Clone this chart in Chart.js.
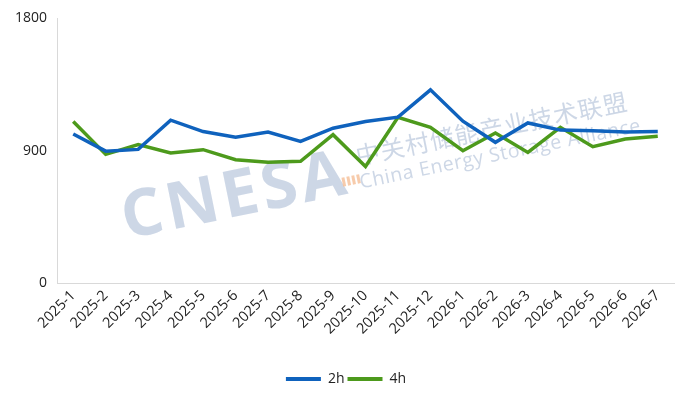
<!DOCTYPE html>
<html>
<head>
<meta charset="utf-8">
<script src="https://cdn.jsdelivr.net/npm/chart.js@4.4.1/dist/chart.umd.min.js"></script>
<style>
html,body{margin:0;padding:0;background:#fff;}
#wrap{width:693px;height:404px;position:relative;}
</style>
</head>
<body>
<div id="wrap"><canvas id="c" width="693" height="404"></canvas></div>
<script>
const categories = ["2025-1","2025-2","2025-3","2025-4","2025-5","2025-6","2025-7","2025-8","2025-9","2025-10","2025-11","2025-12","2026-1","2026-2","2026-3","2026-4","2026-5","2026-6","2026-7"];
const series2h = [1014, 897, 909, 1108, 1030, 991, 1027, 963, 1053, 1098, 1128, 1314, 1101, 957, 1089, 1040, 1036, 1027, 1030];
const series4h = [1098, 875, 941, 884, 907, 839, 822, 828, 1009, 793, 1127, 1059, 900, 1021, 888, 1059, 927, 980, 999];
const yTicks = [0, 900, 1800];

const watermark = {
  id: 'watermark',
  beforeDatasetsDraw(chart) {
    const ctx = chart.ctx;
    ctx.save();
    const ang = -11.5 * Math.PI / 180;
    const wm = 'rgba(196,208,226,0.85)';
    // CNESA
    ctx.save();
    ctx.translate(126, 239);
    ctx.rotate(ang);
    ctx.fillStyle = wm;
    ctx.font = 'bold 65px "Open Sans", sans-serif';
    ctx.letterSpacing = '4px';
    ctx.textBaseline = 'alphabetic';
    ctx.fillText('CNESA', 0, 0);
    const w = ctx.measureText('CNESA').width;
    ctx.letterSpacing = '0px';
    // small orange stripes
    ctx.fillStyle = 'rgba(245,190,150,0.8)';
    for (let i = 0; i < 4; i++) {
      ctx.fillRect(w - 8 + i * 5, -17, 3, 9);
    }
    ctx.restore();
    // Chinese
    ctx.save();
    ctx.translate(356, 156);
    ctx.rotate(ang);
    ctx.fillStyle = wm;
    ctx.font = '24px "Noto Sans CJK SC", sans-serif';
    ctx.letterSpacing = '1.2px';
    ctx.fillText('中关村储能产业技术联盟', 0, 0);
    ctx.restore();
    // English
    ctx.save();
    ctx.translate(360, 183);
    ctx.rotate(ang);
    ctx.fillStyle = wm;
    ctx.font = '19.5px "Open Sans", sans-serif';
    ctx.letterSpacing = '0.6px';
    ctx.fillText('China Energy Storage Alliance', 0, 0);
    ctx.restore();
    ctx.restore();
  }
};

const legendShift = {
  id: 'legendShift',
  afterLayout(chart) {
    if (chart.legend) { chart.legend.left += 9; chart.legend.right += 9; }
  }
};

new Chart(document.getElementById('c'), {
  type: 'line',
  data: {
    labels: categories,
    datasets: [
      { label: '2h', data: series2h, borderColor: '#0F62BD', backgroundColor: '#0F62BD', borderWidth: 3.5, pointRadius: 0, tension: 0 },
      { label: '4h', data: series4h, borderColor: '#4D9A1C', backgroundColor: '#4D9A1C', borderWidth: 3.5, pointRadius: 0, tension: 0 }
    ]
  },
  options: {
    responsive: false,
    animation: false,
    devicePixelRatio: 1,
    layout: { padding: { top: 10, right: 19, bottom: 8, left: 0 } },
    plugins: {
      legend: {
        position: 'bottom',
        labels: {
          boxWidth: 35, boxHeight: 4, color: '#222',
          font: { family: '"Open Sans", sans-serif', size: 14 },
          padding: 3,
          generateLabels(chart) {
            const items = Chart.defaults.plugins.legend.labels.generateLabels(chart);
            items.forEach(i => { i.lineWidth = 0; i.strokeStyle = 'rgba(0,0,0,0)'; });
            return items;
          }
        }
      },
      tooltip: { enabled: false }
    },
    scales: {
      x: {
        offset: true,
        grid: { display: false, drawTicks: false, offset: true },
        border: { display: true, color: '#d9d9d9', width: 1 },
        ticks: {
          color: '#222', maxRotation: 45, minRotation: 45, autoSkip: false, padding: 4,
          font: { family: '"Open Sans", sans-serif', size: 14.5 }
        },
        afterFit(s) { s.height = 86; }
      },
      y: {
        min: 0, max: 1800,
        afterBuildTicks(s) { s.ticks = yTicks.map(v => ({ value: v })); },
        grid: { display: false, drawTicks: false },
        border: { display: true, color: '#d9d9d9', width: 1 },
        ticks: {
          color: '#222', padding: 10,
          font: { family: '"Open Sans", sans-serif', size: 14 },
          callback: (v) => String(v)
        },
        afterFit(s) { s.width = 57; }
      }
    }
  },
  plugins: [watermark, legendShift]
});
</script>
</body>
</html>
